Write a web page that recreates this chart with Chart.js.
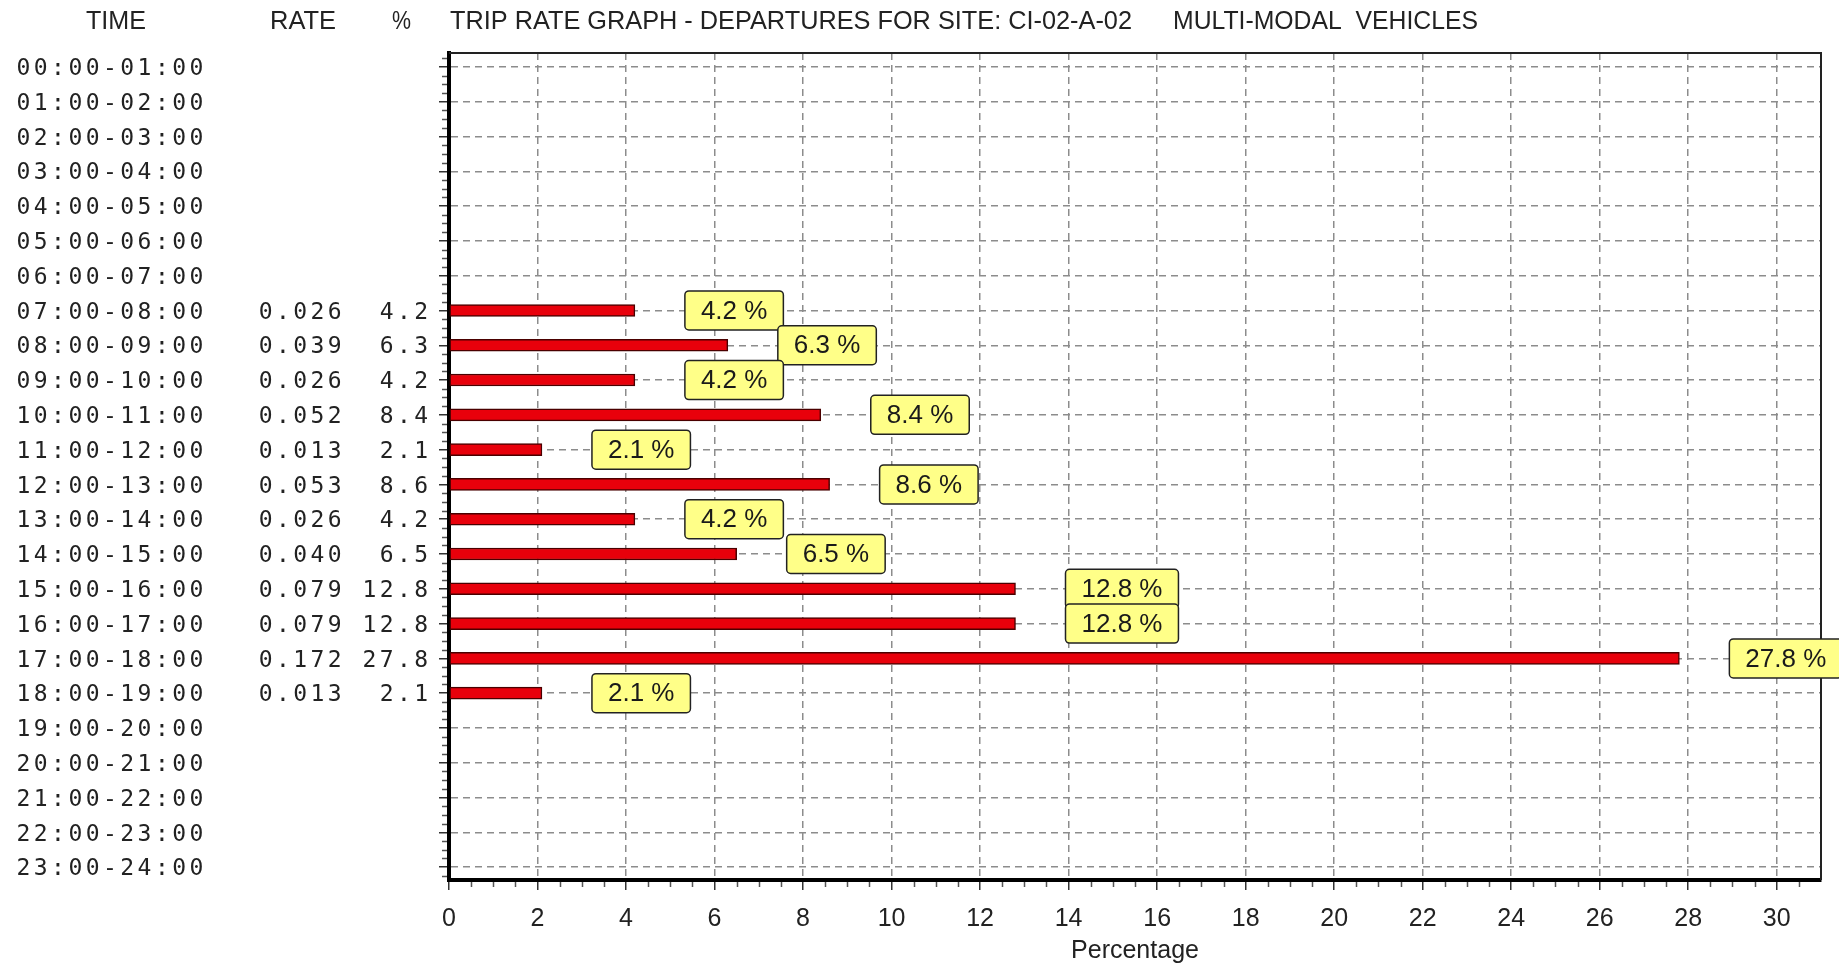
<!DOCTYPE html>
<html>
<head>
<meta charset="utf-8">
<title>Trip rate graph - departures</title>
<script src="https://cdn.jsdelivr.net/npm/chart.js@4/dist/chart.umd.min.js"></script>
<style>
  html, body { margin: 0; padding: 0; background: #fff; }
  #wrap { width: 1839px; height: 967px; }
</style>
</head>
<body>
<div id="wrap"><canvas id="tripChart" width="1839" height="967"></canvas></div>
<script>
// --- Data ---
const timePeriods = [
    '00:00-01:00', '01:00-02:00', '02:00-03:00', '03:00-04:00', '04:00-05:00', '05:00-06:00',
    '06:00-07:00', '07:00-08:00', '08:00-09:00', '09:00-10:00', '10:00-11:00', '11:00-12:00',
    '12:00-13:00', '13:00-14:00', '14:00-15:00', '15:00-16:00', '16:00-17:00', '17:00-18:00',
    '18:00-19:00', '19:00-20:00', '20:00-21:00', '21:00-22:00', '22:00-23:00', '23:00-24:00'
];
const tripRates = [
    null, null, null, null, null, null, null,
    '0.026', '0.039', '0.026', '0.052', '0.013', '0.053', '0.026', '0.040', '0.079', '0.079', '0.172', '0.013',
    null, null, null, null, null
];
const tripPercent = [
    null, null, null, null, null, null, null,
    4.2, 6.3, 4.2, 8.4, 2.1, 8.6, 4.2, 6.5, 12.8, 12.8, 27.8, 2.1,
    null, null, null, null, null
];
const percentTicks = [0, 2, 4, 6, 8, 10, 12, 14, 16, 18, 20, 22, 24, 26, 28, 30];
const columnHeads = ['TIME', 'RATE', '%'];
const graphTitle = 'TRIP RATE GRAPH - DEPARTURES FOR SITE: CI-02-A-02';
const graphSubtitle = 'MULTI-MODAL  VEHICLES';

const sansFont = '"Liberation Sans", Arial, sans-serif';
const monoFont = '"DejaVu Sans Mono", monospace';

// one point per hour that has a value; y is the row index
const barData = [];
tripPercent.forEach((p, i) => { if (p !== null) barData.push({ x: p, y: i }); });

// --- Plugins ---
// plot frame (top + right), minor ticks, the TIME/RATE/% table and the headings
const frameAndTable = {
    id: 'frameAndTable',
    afterDraw(chart) {
        const c = chart.ctx;
        const area = chart.chartArea;
        const xs = chart.scales.x;
        const ys = chart.scales.y;

        c.save();
        c.strokeStyle = '#222';
        c.lineWidth = 2;
        c.beginPath();
        c.moveTo(area.left, area.top);
        c.lineTo(area.right, area.top);
        c.lineTo(area.right, area.bottom);
        c.stroke();

        // minor ticks
        c.strokeStyle = '#555';
        c.lineWidth = 1.5;
        c.beginPath();
        for (let v = 0.5; v < xs.max; v += 0.5) {
            if (v % 2 === 0) continue;
            const px = Math.round(xs.getPixelForValue(v)) + 0.5;
            c.moveTo(px, area.bottom + 2);
            c.lineTo(px, area.bottom + 7);
        }
        for (let r = -0.25; r < ys.max; r += 0.25) {
            if (Number.isInteger(r)) continue;
            const py = Math.round(ys.getPixelForValue(r)) + 0.5;
            c.moveTo(area.left - 7, py);
            c.lineTo(area.left - 2, py);
        }
        c.stroke();

        // left table
        c.fillStyle = '#222';
        c.font = '23px ' + monoFont;
        c.letterSpacing = '3.45px';
        c.textAlign = 'left';
        c.textBaseline = 'alphabetic';
        timePeriods.forEach((t, i) => {
            let row = t;
            if (tripRates[i] !== null) {
                row += '   ' + tripRates[i] + ' ' + tripPercent[i].toFixed(1).padStart(4);
            }
            c.fillText(row, 16.5, ys.getPixelForValue(i) + 8.2);
        });
        c.letterSpacing = '0px';

        // headings, squeezed like the original condensed font
        c.font = '26px ' + sansFont;
        c.fillText(columnHeads[0], 86, 29, 60);
        c.fillText(columnHeads[1], 270, 29, 66);
        c.fillText(columnHeads[2], 392, 29, 19);
        c.fillText(graphTitle, 450, 29, 682);
        c.fillText(graphSubtitle, 1173, 29, 305);
        c.restore();
    }
};

// yellow "x.x %" boxes to the right of each bar
const boxLabels = {
    id: 'boxLabels',
    afterDraw(chart) {
        const c = chart.ctx;
        const meta = chart.getDatasetMeta(0);
        c.save();
        c.font = '26px ' + sansFont;
        c.textAlign = 'center';
        c.textBaseline = 'middle';
        meta.data.forEach((bar, i) => {
            const txt = barData[i].x.toFixed(1) + ' %';
            const w = c.measureText(txt).width + 32;
            const h = 39;
            const left = bar.x + 50;
            const top = bar.y - h / 2;
            c.beginPath();
            c.roundRect(left, top, w, h, 4);
            c.fillStyle = '#ffff88';
            c.fill();
            c.lineWidth = 1.5;
            c.strokeStyle = '#222';
            c.stroke();
            c.fillStyle = '#1a1a1a';
            c.fillText(txt, left + w / 2, bar.y + 1);
        });
        c.restore();
    }
};

// --- Chart ---
const ctx = document.getElementById('tripChart').getContext('2d');
new Chart(ctx, {
    type: 'bar',
    data: {
        datasets: [{
            data: barData,
            backgroundColor: '#e8000b',
            borderColor: '#4a0000',
            borderWidth: 1.5,
            borderSkipped: false,
            barThickness: 12
        }]
    },
    options: {
        responsive: false,
        animation: false,
        indexAxis: 'y',
        layout: { padding: { top: 53, right: 18, left: 0, bottom: 0 } },
        plugins: {
            legend: { display: false },
            tooltip: { enabled: false }
        },
        scales: {
            x: {
                type: 'linear',
                position: 'bottom',
                min: 0,
                max: 31,
                afterBuildTicks: s => { s.ticks = percentTicks.map(v => ({ value: v })); },
                afterFit: s => { s.height = 87; },
                grid: { color: '#8c8c8c', lineWidth: 1.5, tickLength: 10, tickColor: '#333', tickWidth: 1.5 },
                border: { display: true, color: '#000', width: 4, dash: [7, 5] },
                ticks: {
                    color: '#222',
                    padding: 14,
                    maxRotation: 0,
                    autoSkip: false,
                    includeBounds: false,
                    font: { family: sansFont, size: 25 }
                },
                title: {
                    display: true,
                    text: 'Percentage',
                    color: '#222',
                    font: { family: sansFont, size: 25 },
                    padding: { top: 0, bottom: 1 }
                }
            },
            y: {
                type: 'linear',
                position: 'left',
                min: -0.4,
                max: 23.37,
                reverse: true,
                offset: false,
                afterBuildTicks: s => { s.ticks = timePeriods.map((t, i) => ({ value: i })); },
                afterFit: s => { s.width = 449; },
                grid: { offset: false, color: '#8c8c8c', lineWidth: 1.5, tickLength: 10, tickColor: '#333', tickWidth: 1.5 },
                border: { display: true, color: '#000', width: 4, dash: [7, 5] },
                ticks: { display: false }
            }
        }
    },
    plugins: [frameAndTable, boxLabels]
});
</script>
</body>
</html>
